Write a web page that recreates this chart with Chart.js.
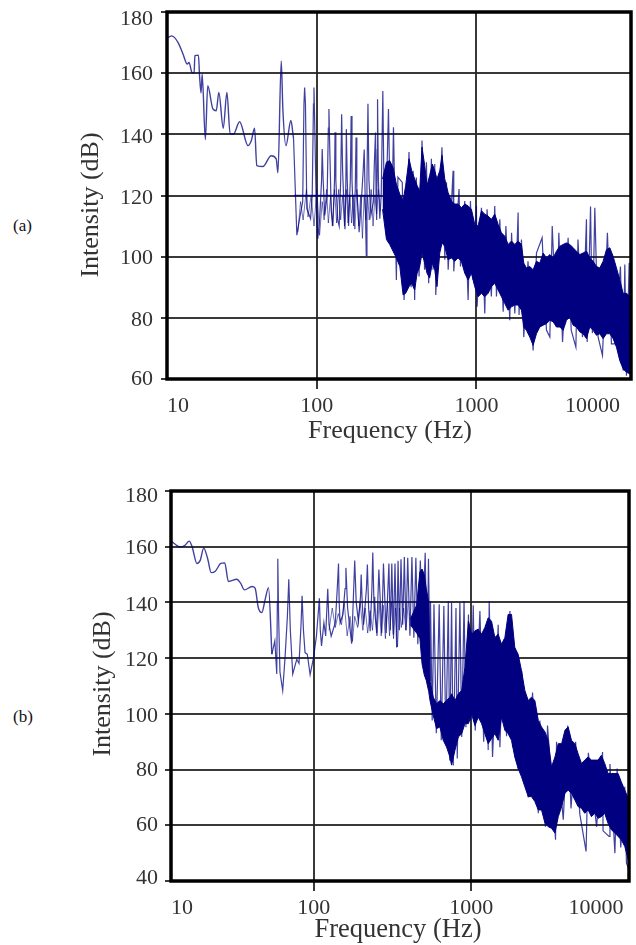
<!DOCTYPE html>
<html>
<head>
<meta charset="utf-8">
<title>Intensity spectra</title>
<script src="https://cdn.jsdelivr.net/npm/chart.js@4"></script>
<style>
  html, body { margin: 0; padding: 0; background: #fff; }
  #page { position: relative; width: 636px; height: 945px; overflow: hidden; }
  .box { position: absolute; left: 0; width: 636px; }
  .box canvas { filter: blur(0.5px); }
  .tag { position: absolute; left: 13px; font: 17px "Liberation Serif", serif; color: #111; }
</style>
</head>
<body>
<div id="page">
  <span class="tag" style="top:216px">(a)</span>
  <span class="tag" style="top:707px">(b)</span>
  <div class="box" style="top:0;height:450px"><canvas id="chartA"></canvas></div>
  <div class="box" style="top:470px;height:475px"><canvas id="chartB"></canvas></div>
</div>
<script>
const xTickLabels = ['10', '100', '1000', '10000'];
const xTicksA = [11.5, 100, 1000, 9305];
const xTicksB = [12.4, 100, 1000, 10040];
const yTicksA = [60, 80, 100, 120, 140, 160, 180];
const yTicksB = [40, 60, 80, 100, 120, 140, 160, 180];

// panel (a), values
const lowFreqA = [11.4,12.3,13.5,14.5,15.4,15.8,16.5,17,17.2,18.1,18.4,18.8,19.1,20,20.7,22.3,23.4,24.3,25.9,27.3,28.6,30,32.8,37,38.8,40.7,42,45.9,51.7,55.6,57,59.8,61.2,64,68.7,71.4];
const lowDbA = [171.3,172.2,170,166.2,163,163.5,160.2,160,165.7,165.9,159.1,153.5,159.7,138.3,155.9,148.3,147.7,153.7,142,153.7,140.1,140.1,144.1,136.3,137.9,142,129.8,129.5,133,132,127.4,164,148.3,136.3,144.5,138.7];
const spikeFreqA = [71.4,74.9,77.9,81.5,83,83.8,84.8,86.5,91.3,93.5,95.2,95.9,96.8,99,101.4,104,107,108,109.5,112,116,118,119,120.5,123,126,129,130,131.5,135,138,141,143,145,149,150,152,153,155,158,162,164,166,170,174,176,178,184,190,195,198,201,204,206,209,212,218,226,229,233,235,237,239,240,243,248,253,259,263,268,274,281,286,291,297,302,
  315,322,343,352,378,390,401,410,420,437,456,473,486,502,522,535,548,556,608,634,649,665,714,721,778,794,845,887,917,953,1000,1010,1075,1128,1166,1240,1303,1335,1401,1471,1530,1618,1660,1740,1825,1850,1915,1980,2105,2266,2378,2580,2747,2885,2985,3175,3285,3465,3755,3925,4200,4330,4620,4893,4945,5190,5330,5520,5790,6165,6620,7020,7370,7990,8320,8510,8715,9060,9230];
const spikeDbA = [138.7,107,112.4,118,150,155.3,150,115.7,112.4,120,150,155.3,145,118,105.9,112,125,135.2,125,113.5,120,142,148.3,135,115,110,125,140.7,125,112,110,125,146.6,128,112,109,125,141.7,125,110,125,146,125,110,122,139,122,108,118,128,135,118,100.4,125,150,125,113.5,118,130,140.6,120,112,135,151.5,125,112.4,120,154.2,125,119,125,148.3,125,108,120,142.3,
  92.4,126,124.3,85.8,134.2,90,128.1,85.8,125.9,93.5,138,95.7,130.9,91.3,132,95.7,130.3,87.5,135.8,99,124.3,95.7,128.1,95.2,122.1,96.8,118.2,85.8,118.2,92.4,116.6,83.6,116,81.4,115.5,87,116.6,87,112.2,82,110,79.2,107.8,81.4,114.4,80.9,105.6,73.7,98.5,69.3,101.2,106.2,76,73.7,110,77,107.8,72.1,106.2,76,70.4,105.6,73.7,112.2,72.1,116.4,75,116,73.7,67.7,107.8,71.5,71.5,96.8,62.7,97.4,61.1,97.9,61.6];
const rippleFreqA = [76,79,82,86,88,92,96,100,104,108,111,115,118,122,125,129,133,137,141,145,149,153,157,161,165,169,173,178,183,188,193,198,203,208,213,219,225,231,237,243,250];
const rippleDbA = [108,118,112,122,113,120,110,122,107,118,112,122,111,120,110,122,111,122,112,120,110,122,111,120,111,120,109,122,110,120,106,120,112,120,112,122,110,120,114,122,115];
const coreFreqA = [258,273,286,300,315,331,347,360,378,393,410,425,441,456,474,490,509,529,548,566,589,609,633,664,697,731,767,805,845,887,930,976,1024,1075,1128,1183,1242,1303,1367,1435,1505,1580,1658,1740,1825,1915,1980,2058,2160,2266,2378,2495,2620,2747,2885,3025,3175,3330,3495,3666,3847,4036,4235,4444,4663,4893,5134,5387,5653,5931,6223,6530,6853,7190,7544,7916,8307,8715,9230];
const coreHiA = [125.4,130.9,131.4,129.2,123.7,120.4,118.2,123.2,132,128.1,125.4,123.2,121.5,135.8,129.8,123.2,126.5,130.3,128.1,125.4,128.1,133.1,125.4,121,118.2,117.2,117.2,116,117.2,116.6,115.5,110.6,110,115,113.9,113.3,112.2,113.9,110.6,107.8,106.7,104,105.1,104,105.1,104,97.9,96.3,96.8,95.7,98.5,97.9,101.2,99.6,100.7,99.6,101.8,103.4,104,104.5,104,102.9,101.8,100.7,101.2,101.8,99.6,98.5,96.8,96.3,98.5,102.3,102.9,100.1,96.3,92.4,88,88,86.9];
const coreLoA = [115.5,105.6,104,101.8,99.6,96.8,87.5,88,90.2,91.3,89.1,94.6,96.8,101.2,97.9,94.6,93,97.9,95.7,90.2,101.2,104.5,103.4,99,99.6,98.5,99.6,98.5,94.6,92.4,94.6,90.2,86.9,88,86.9,88,90.2,91.3,89.1,86.9,84.7,82.5,83.6,84.2,84.2,82.5,77,75.9,73.7,71,74.8,77,77.6,78.1,79.2,78.7,77,77,75.9,79.2,80.3,77.6,77,75.4,74.8,73.2,77,75.9,74.3,74.8,73.2,74.8,74.8,73.2,70.4,66,63.3,62.2,61.6];
const flatFreqA = [72, 250];
const flatDbA = [120, 120];

// panel (b), values
const lowFreqB = [12.5,13.3,14.2,15.2,16.2,16.9,18.1,19,20,21.2,22.3,23.7,25.7,27.2,28.7,32.4,34.3,36.3,40.5,42.4,44.5,46.8,49.1,51.6,54.2];
const lowDbB = [161.9,160.7,159.9,160.5,162,159.9,154,155.1,159.5,155.7,150.7,151.2,154,154.2,147.5,148.3,146.9,144.5,145.7,145.1,138,136.4,141,145.3,121.4];
const spikeFreqB = [54.2,56.6,58.2,58.7,59.1,59.8,61,63.5,65.7,68,69.4,71,73.5,78,80.6,83,84.3,86,88,91,94.8,99.5,104,108.6,110,112,116,119,122.7,125,129,137,141,143.6,145,147,153,158,160,164,174,178,182,186,192,198,200,203,207,216,219,223,228,234,237,241,251,259,270,277,288,300,306,313,320,328,336,343,350,358,367,376,385,395,408,420,432,445,458,475,490,510,525,535,548,
  551,565,580,600,626,645,670,690,715,730,750,769,800,815,847,870,900,925,960,990,1030,1060,1135,1200,1250,1281,1300,1365,1483,1520,1600,1676,1760,1830,1890,1990,2090,2300,2450,2665,2727,2960,3050,3430,3480,3840,4100,4300,4600,4892,5360,5540,6250,6820,6870,7500,7600,8170,8440,8900,9440,9674,10040];
const spikeDbB = [121.4,126.2,114.3,140,155.7,135,115,108.4,120.2,135,148.3,130,114.3,119.6,118.1,132,142.4,130,122,121.4,114.1,120,128,141.5,130,124.4,132.7,128,144.9,132,127.9,132.7,145,154,140,132.7,135.6,145,152.4,138,125.2,140,155,140,133.3,142,150,140,132,145,153.6,138,129.7,145,157.9,140,129,151.8,129,154,129,154,130,154,128.5,154,123.8,155,130,155.5,132,156.3,130,156,128,156.3,127.3,156,125,155,130,157.8,113,155.7,112,
  140.5,97.6,139.3,93,139.3,90.5,138.7,89,140.5,83.3,140,81.5,138,84,140,91.7,140.5,95.2,135.7,97.6,139,94,136.9,90,131,87,140.5,84.5,132,88,125,92,136.9,88,123.8,80,115.5,70,107.7,64.3,97.6,59.5,95.8,54.8,90,62,95.8,66,90,64,50.6,86,59.5,86.3,58,56,82,50,80.4,52,73.8,46.4,44];
const rippleFreqB = [125,131,137,143,150,156,163,170,176,182,190,197,205,212,220,228,236,244,252,260,268,276,285,294,303,312,321,330,340,350,360,372,385,398];
const rippleDbB = [130,138,131,136,132,140,128,135,126,135,131,140,130,138,129,137,130,142,128,140,128,139,127,140,128,140,127,138,124,138,131,138,130,140];
const coreFreqB = [410,450,472,487,503,518,537,547,574,602,632,664,697,732,750,788,828,870,912,960,1005,1055,1108,1163,1220,1281,1345,1412,1483,1557,1635,1715,1802,1890,1985,2085,2190,2300,2412,2535,2665,2795,2940,3080,3235,3400,3570,3750,3935,4125,4330,4550,4770,5010,5260,5520,5800,6085,6390,6700,7040,7390,7750,8170,8560,8970,9440,10040];
const coreHiB = [134,139,151,152,150,145,140,111.9,106,103.6,104.8,103.6,104.8,106,107.2,104.8,107.2,108.4,116.7,133.3,128.6,129.8,130.4,128.6,131,134.5,133.3,127.4,128.6,125,127.4,135.7,135.7,123.8,121.4,115.5,108.4,104.8,106,104.8,97.6,95.3,93.5,90.5,81,84.5,89.3,89.3,94.1,95.3,90.5,89.3,85.7,82.2,83.4,84.5,83.4,83.4,83.4,85.1,82.2,78.6,78.6,78.6,78.6,75.6,72.6,69.1];
const coreLoB = [132,129,127,118,114,112,108,104.8,99.4,94.7,95.3,90.5,88.1,84.5,81.6,86.9,91.7,92.9,96.5,96.5,100,95.8,98.8,96.5,92.9,89.3,91.1,92.9,90.5,98.8,94.1,92.9,90.5,84.5,80.4,77.4,73.8,70.3,70.3,68.5,65.5,65.5,60.7,59.5,58.9,57.2,63.1,66.7,71.5,72.6,71.5,69.1,66.7,66.1,64.3,65.5,63.1,64.3,62.5,63.1,64.3,60.7,58.4,57.2,56,54.8,52.4,46.5];

const navy = '#000080';
const thin = 'rgba(0,0,128,0.75)';
const faint = 'rgba(0,0,128,0.55)';
const gridCol = 'rgba(35,35,35,0.9)';
const serif = '"Liberation Serif", serif';

function pts(xs, ys) {
  return xs.map((x, i) => ({ x: x, y: ys[i] }));
}

// frame round the plot and the two axis names
const framePlugin = {
  id: 'frame',
  afterDraw(chart, args, opts) {
    const a = chart.chartArea, ctx = chart.ctx;
    ctx.save();
    ctx.strokeStyle = '#000';
    ctx.lineWidth = 3.5;
    ctx.strokeRect(a.left, a.top, a.right - a.left, a.bottom - a.top);
    ctx.fillStyle = '#333';
    ctx.textAlign = 'center';
    ctx.textBaseline = 'middle';
    ctx.font = opts.xSize + 'px ' + serif;
    ctx.fillText('Frequency (Hz)', opts.xName[0], opts.xName[1]);
    ctx.font = opts.ySize + 'px ' + serif;
    ctx.translate(opts.yName[0], opts.yName[1]);
    ctx.rotate(-Math.PI / 2);
    ctx.fillText('Intensity (dB)', 0, 0);
    ctx.restore();
  }
};

function makeChart(id, cfg) {
  const datasets = [
    { data: pts(cfg.lowFreq, cfg.lowDb), borderColor: thin, borderWidth: 1.4, fill: false, cubicInterpolationMode: 'monotone' },
    { data: pts(cfg.spikeFreq, cfg.spikeDb), borderColor: thin, borderWidth: 1.2, fill: false },
    { data: pts(cfg.rippleFreq, cfg.rippleDb), borderColor: faint, borderWidth: 1, fill: false },
    { data: pts(cfg.coreFreq, cfg.coreHi), borderColor: navy, borderWidth: 1, backgroundColor: navy, fill: '+1' },
    { data: pts(cfg.coreFreq, cfg.coreLo), borderColor: navy, borderWidth: 1, fill: false }
  ];
  if (cfg.flatFreq) {
    datasets.push({ data: pts(cfg.flatFreq, cfg.flatDb), borderColor: thin, borderWidth: 1.5, fill: false });
  }
  return new Chart(document.getElementById(id).getContext('2d'), {
    type: 'line',
    data: { datasets: datasets },
    plugins: [framePlugin],
    options: {
      responsive: true,
      maintainAspectRatio: false,
      animation: false,
      elements: { point: { radius: 0 }, line: { tension: 0 } },
      layout: { padding: { top: cfg.top, right: cfg.right, left: 0, bottom: 0 } },
      plugins: {
        legend: { display: false },
        tooltip: { enabled: false },
        frame: { xName: cfg.xName, yName: cfg.yName, xSize: cfg.xSize, ySize: cfg.ySize }
      },
      scales: {
        x: {
          type: 'logarithmic',
          min: cfg.xTicks[0],
          max: cfg.xTicks[3],
          afterBuildTicks(scale) { scale.ticks = cfg.xTicks.map(v => ({ value: v, major: true })); },
          afterFit(scale) { scale.height = cfg.xHeight; scale.paddingLeft = 0; scale.paddingRight = 0; },
          grid: {
            color: gridCol, lineWidth: 2, tickLength: 10,
            // no tick mark under the two corners
            tickColor: ctx => (ctx.index === 0 || ctx.index === 3) ? 'transparent' : gridCol
          },
          border: { display: false },
          ticks: {
            autoSkip: false, maxRotation: 0, align: 'inner', padding: cfg.xPad, color: '#333',
            font: { family: serif, size: 22 },
            // the last label sits a little in from the right edge
            callback: (v, i) => i === 3 ? xTickLabels[i] + cfg.lastPad : xTickLabels[i]
          }
        },
        y: {
          min: cfg.yTicks[0],
          max: cfg.yTicks[cfg.yTicks.length - 1],
          afterBuildTicks(scale) { scale.ticks = cfg.yTicks.map(v => ({ value: v })); },
          afterFit(scale) { scale.width = cfg.yWidth; scale.paddingTop = 0; scale.paddingBottom = 0; },
          grid: { color: gridCol, lineWidth: 2, tickLength: 6 },
          border: { display: false },
          ticks: {
            padding: cfg.yPad, color: '#333',
            // labels sit a few pixels under their grid line, a blank line above does that
            font: ctx => {
              const drop = ctx.tick ? (cfg.yDrop[ctx.tick.value] || 0) : 0;
              return { family: serif, size: 22, lineHeight: drop ? (2 * Math.abs(drop)) + 'px' : 1.2 };
            },
            callback: v => {
              const drop = cfg.yDrop[v] || 0;
              if (drop > 0) return ['', String(v)];
              if (drop < 0) return [String(v), ''];
              return String(v);
            }
          }
        }
      }
    }
  });
}

makeChart('chartA', {
  lowFreq: lowFreqA, lowDb: lowDbA, spikeFreq: spikeFreqA, spikeDb: spikeDbA,
  rippleFreq: rippleFreqA, rippleDb: rippleDbA,
  coreFreq: coreFreqA, coreHi: coreHiA, coreLo: coreLoA,
  flatFreq: flatFreqA, flatDb: flatDbA,
  xTicks: xTicksA, yTicks: yTicksA,
  top: 12, right: 5, xHeight: 71, yWidth: 167, xPad: 4, yPad: 8, lastPad: '  ',
  yDrop: { 180: 7, 160: 1, 140: 3, 120: 3, 100: 2, 80: 2 },
  xName: [390, 431], yName: [91, 205], xSize: 26, ySize: 26
});
makeChart('chartB', {
  lowFreq: lowFreqB, lowDb: lowDbB, spikeFreq: spikeFreqB, spikeDb: spikeDbB,
  rippleFreq: rippleFreqB, rippleDb: rippleDbB,
  coreFreq: coreFreqB, coreHi: coreHiB, coreLo: coreLoB,
  xTicks: xTicksB, yTicks: yTicksB,
  top: 21, right: 7, xHeight: 64, yWidth: 171, xPad: 4, yPad: 7, lastPad: ' ',
  yDrop: { 180: 5, 160: 2, 140: 3, 120: 2, 100: 2, 80: 1, 40: -3 },
  xName: [398, 460], yName: [103, 214], xSize: 26.5, ySize: 26
});
</script>
</body>
</html>
